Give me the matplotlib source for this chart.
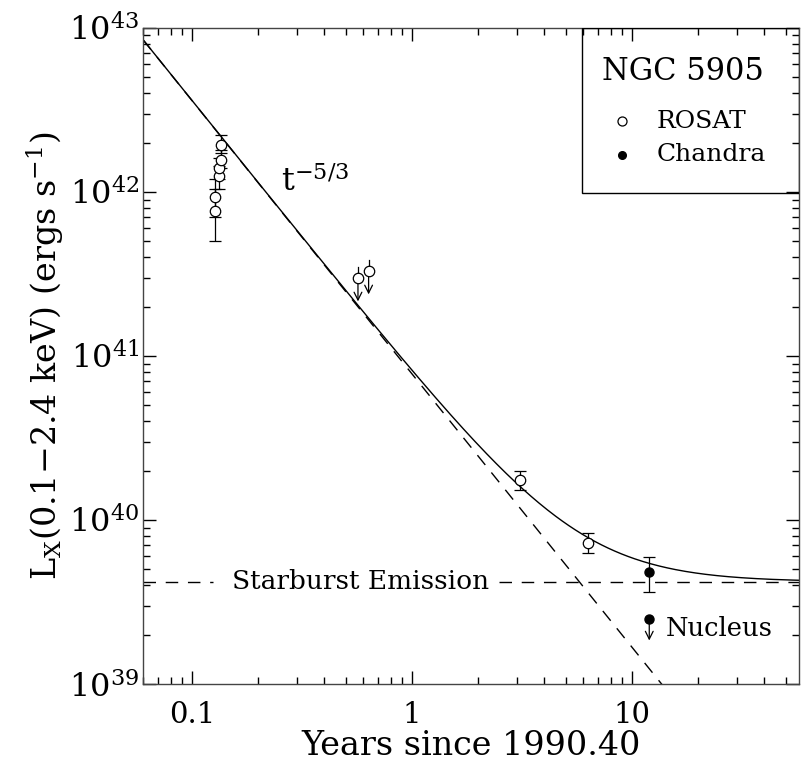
import numpy as np
import matplotlib
matplotlib.use("Agg")
import matplotlib.pyplot as plt
from matplotlib.patches import Rectangle
from matplotlib.ticker import LogLocator, FixedLocator, NullFormatter

plt.rcParams["font.family"] = ["DejaVu Serif"]
plt.rcParams["mathtext.fontset"] = "dejavuserif"
plt.rcParams["mathtext.default"] = "rm"

# ROSAT detections (years since 1990.40, erg/s) with lower/upper error-bar ends
rosat_t = [0.128, 0.128, 0.133, 0.133, 0.136, 0.136, 3.09, 6.31]
rosat_L = [7.7e41, 9.3e41, 1.25e42, 1.40e42, 1.57e42, 1.94e42, 1.75e40, 7.24e39]
rosat_lo = [5.0e41, 7.0e41, 1.05e42, 1.20e42, 1.40e42, 1.72e42, 1.52e40, 6.3e39]
rosat_hi = [1.05e42, 1.20e42, 1.45e42, 1.62e42, 1.80e42, 2.23e42, 1.99e40, 8.34e39]

# ROSAT upper limits
rosat_ul_t = [0.569, 0.636]
rosat_ul_L = [2.99e41, 3.30e41]

# Chandra total emission and nuclear upper limit
chandra_t = [12.0]
chandra_L = [4.82e39]
chandra_lo = [3.64e39]
chandra_hi = [5.94e39]
nucleus_t = [12.0]
nucleus_L = [2.49e39]

# Model: t^-5/3 decay on top of constant starburst emission
decay_norm = 7.8e40
decay_index = -5.0 / 3.0
starburst_L = 4.2e39

x_ticks = [0.1, 1, 10]
x_ticklabels = ["0.1", "1", "10"]
y_ticks = [1e39, 1e40, 1e41, 1e42, 1e43]
y_ticklabels = [r"$10^{39}$", r"$10^{40}$", r"$10^{41}$", r"$10^{42}$", r"$10^{43}$"]

xmin, xmax = 0.06, 57.5
ymin, ymax = 1e39, 1e43

fig = plt.figure(figsize=(8.09, 7.67), dpi=100)
ax = fig.add_axes([0.1768, 0.1082, 0.8108, 0.8553])
ax.set_xscale("log")
ax.set_yscale("log")
ax.set_xlim(xmin, xmax)
ax.set_ylim(ymin, ymax)

lw = 1.0
t = np.logspace(np.log10(xmin), np.log10(xmax), 400)
decay = decay_norm * t ** decay_index
ax.plot(t, decay + starburst_L, color="black", lw=lw)
ax.plot(t, decay, color="black", lw=lw, dashes=(9, 7))

# starburst level, interrupted by its label
t_left = np.array([xmin, 0.125])
t_right = np.array([2.5, xmax])
ax.plot(t_left, [starburst_L] * 2, color="black", lw=lw, dashes=(9, 7))
ax.plot(t_right, [starburst_L] * 2, color="black", lw=lw, dashes=(9, 7))
ax.text(0.153, starburst_L, "Starburst Emission", fontsize=19,
        ha="left", va="center")

# error bars
r_t = np.array(rosat_t)
r_L = np.array(rosat_L)
r_err = [r_L - np.array(rosat_lo), np.array(rosat_hi) - r_L]
ax.errorbar(r_t, r_L, yerr=r_err, fmt="o", mfc="white", mec="black",
            ms=7.5, mew=0.9, ecolor="black", elinewidth=0.9, capsize=4.5,
            capthick=0.9, zorder=3)

c_t = np.array(chandra_t)
c_L = np.array(chandra_L)
c_err = [c_L - np.array(chandra_lo), np.array(chandra_hi) - c_L]
ax.errorbar(c_t, c_L, yerr=c_err, fmt="o", mfc="black", mec="black",
            ms=6.5, ecolor="black", elinewidth=0.9, capsize=4.5,
            capthick=0.9, zorder=3)

# upper limits: a stub above the symbol and an arrow below
for tt, LL in zip(rosat_ul_t, rosat_ul_L):
    ax.plot([tt, tt], [LL, LL * 1.16], color="black", lw=0.9)
    ax.annotate("", xy=(tt, LL * 0.72), xytext=(tt, LL),
                arrowprops=dict(arrowstyle="->", lw=0.9, color="black",
                                shrinkA=0, shrinkB=0, mutation_scale=14))
ax.plot(rosat_ul_t, rosat_ul_L, "o", mfc="white", mec="black", ms=7.5,
        mew=0.9, zorder=3)

for tt, LL in zip(nucleus_t, nucleus_L):
    ax.annotate("", xy=(tt, LL * 0.74), xytext=(tt, LL),
                arrowprops=dict(arrowstyle="->", lw=0.9, color="black",
                                shrinkA=0, shrinkB=0, mutation_scale=14))
ax.plot(nucleus_t, nucleus_L, "o", mfc="black", mec="black", ms=6.5, zorder=3)
ax.text(14.3, 2.18e39, "Nucleus", fontsize=18.5, ha="left", va="center")

ax.text(0.255, 1.02e42, r"$t^{-5/3}$", fontsize=23, ha="left", va="baseline")

# key box in the upper right corner
box = Rectangle((0.669, 0.748), 0.331, 0.252, transform=ax.transAxes,
                fill=False, ec="black", lw=1.0, zorder=4)
ax.add_patch(box)
ax.text(0.823, 0.933, "NGC 5905", transform=ax.transAxes, fontsize=22,
        ha="center", va="center")
ax.plot([0.730], [0.858], "o", transform=ax.transAxes, mfc="white",
        mec="black", ms=6.5, mew=0.9, clip_on=False)
ax.plot([0.730], [0.807], "o", transform=ax.transAxes, mfc="black",
        mec="black", ms=5.5, clip_on=False)
ax.text(0.783, 0.858, "ROSAT", transform=ax.transAxes, fontsize=18,
        ha="left", va="center")
ax.text(0.783, 0.807, "Chandra", transform=ax.transAxes, fontsize=18,
        ha="left", va="center")

ax.xaxis.set_major_locator(FixedLocator(x_ticks))
ax.set_xticklabels(x_ticklabels)
ax.xaxis.set_minor_locator(LogLocator(base=10, subs=np.arange(2, 10)))
ax.xaxis.set_minor_formatter(NullFormatter())
ax.yaxis.set_major_locator(FixedLocator(y_ticks))
ax.set_yticklabels(y_ticklabels)
ax.yaxis.set_minor_locator(LogLocator(base=10, subs=np.arange(2, 10)))
ax.yaxis.set_minor_formatter(NullFormatter())
ax.tick_params(which="both", direction="in", top=True, right=True,
               width=1.0)
ax.tick_params(which="major", length=9.5)
ax.tick_params(which="minor", length=5)
ax.tick_params(axis="x", which="major", pad=12, labelsize=21)
ax.tick_params(axis="y", which="major", pad=3, labelsize=23)
for s in ax.spines.values():
    s.set_linewidth(1.0)
    s.set_color("#444444")

ax.set_xlabel("Years since 1990.40", fontsize=24, labelpad=1)
ax.set_ylabel(r"L$_X$(0.1$-$2.4 keV) (ergs s$^{-1}$)", fontsize=24,
              labelpad=2)

fig.savefig("out.png", dpi=100)
